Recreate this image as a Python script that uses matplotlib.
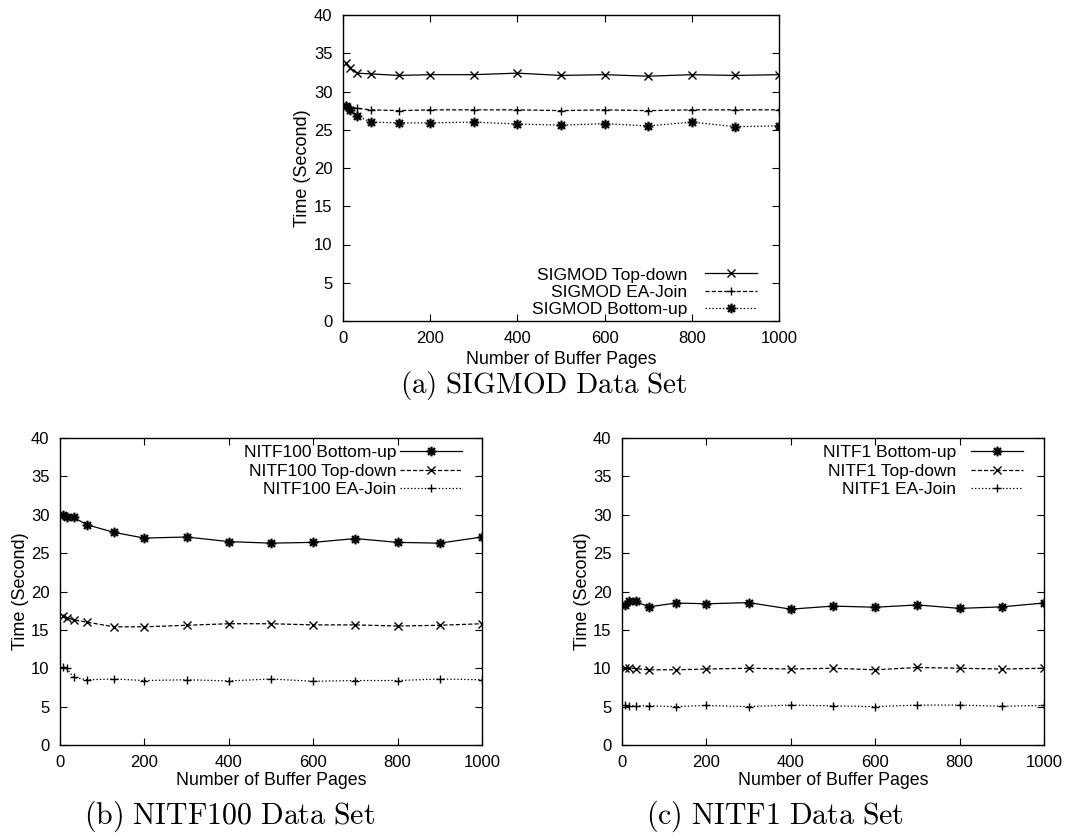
import matplotlib
matplotlib.use("Agg")
import matplotlib.pyplot as plt
from matplotlib.path import Path

plt.rcParams['font.family'] = ['Liberation Sans', 'DejaVu Sans']
plt.rcParams['mathtext.fontset'] = 'cm'
plt.rcParams['lines.scale_dashes'] = False

# ---- data ----
buffer_pages = [8, 16, 32, 64, 128, 200, 300, 400, 500, 600, 700, 800, 900, 1000]

sigmod_topdown = [33.7, 33.1, 32.4, 32.3, 32.1, 32.2, 32.2, 32.4, 32.1, 32.2, 32.0, 32.2, 32.1, 32.2]
sigmod_eajoin = [28.2, 28.0, 27.8, 27.6, 27.5, 27.6, 27.6, 27.6, 27.5, 27.6, 27.5, 27.6, 27.6, 27.6]
sigmod_bottomup = [28.1, 27.6, 26.8, 26.0, 25.9, 25.9, 26.0, 25.75, 25.6, 25.8, 25.5, 26.0, 25.4, 25.5]

nitf100_bottomup = [30.0, 29.65, 29.65, 28.7, 27.7, 26.96, 27.1, 26.5, 26.3, 26.4, 26.9, 26.4, 26.3, 27.1]
nitf100_topdown = [16.8, 16.6, 16.3, 16.0, 15.4, 15.4, 15.6, 15.8, 15.8, 15.65, 15.65, 15.5, 15.6, 15.8]
nitf100_eajoin = [10.2, 10.0, 8.8, 8.5, 8.6, 8.4, 8.5, 8.35, 8.6, 8.3, 8.4, 8.4, 8.6, 8.5]

nitf1_bottomup = [18.25, 18.8, 18.7, 18.0, 18.5, 18.4, 18.55, 17.7, 18.1, 17.95, 18.25, 17.8, 18.0, 18.5]
nitf1_topdown = [10.05, 10.05, 9.95, 9.8, 9.8, 9.9, 10.0, 9.9, 10.0, 9.8, 10.1, 10.0, 9.9, 10.0]
nitf1_eajoin = [5.15, 5.1, 5.1, 5.1, 5.0, 5.15, 5.0, 5.2, 5.1, 5.0, 5.2, 5.2, 5.05, 5.15]

x_ticks = [0, 200, 400, 600, 800, 1000]
y_ticks = [0, 5, 10, 15, 20, 25, 30, 35, 40]

SOLID = '-'
DASHED = (0, (3.0, 1.5))
DOTTED = (0, (1.0, 1.5))
STAR = Path([(-1, 0), (1, 0), (0, -1), (0, 1),
             (-0.72, -0.72), (0.72, 0.72), (-0.72, 0.72), (0.72, -0.72)],
            [Path.MOVETO, Path.LINETO] * 4)

W, H = 1084, 839
fig = plt.figure(figsize=(W / 100, H / 100), dpi=100)


def make_axes(l, r, t, b):
    return fig.add_axes([l / W, 1 - b / H, (r - l) / W, (b - t) / H])


def style(ax):
    ax.set_xlim(0, 1000)
    ax.set_ylim(0, 40)
    ax.set_xticks(x_ticks)
    ax.set_yticks(y_ticks)
    ax.tick_params(direction='in', length=5, width=0.8, top=True, right=True,
                   labelsize=12, color='black')
    ax.tick_params(axis='x', pad=7.0)
    ax.tick_params(axis='y', pad=7.5)
    for s in ax.spines.values():
        s.set_linewidth(1.0)
    ax.set_xlabel('Number of Buffer Pages', fontsize=12.8)
    ax.set_ylabel('Time (Second)', fontsize=13)


def series(ax, y, ls, marker, label, mew=1.0, ms=6):
    ax.plot(buffer_pages, y, color='black', linestyle=ls, linewidth=0.9,
            marker=marker, markersize=ms, markeredgewidth=mew, label=label)


LEG = dict(frameon=False, markerfirst=False, fontsize=12.5,
           borderpad=0.0, borderaxespad=0.0)

# (a) SIGMOD
axa = make_axes(343, 779, 15, 321)
series(axa, sigmod_topdown, SOLID, 'x', 'SIGMOD Top-down')
series(axa, sigmod_eajoin, DASHED, '+', 'SIGMOD EA-Join')
series(axa, sigmod_bottomup, DOTTED, STAR, 'SIGMOD Bottom-up', mew=1.6, ms=7)
style(axa)
axa.xaxis.set_label_coords(0.5, (321 - 350.5) / 306)
axa.yaxis.set_label_coords((311 - 343) / 436, 0.5)
axa.legend(loc='lower right', bbox_to_anchor=((757 - 343) / 436, 0.013),
           handletextpad=1.0, handlelength=3.0, labelspacing=0.12, **LEG)

# (b) NITF100
axb = make_axes(60, 482, 438, 745)
series(axb, nitf100_bottomup, SOLID, STAR, 'NITF100 Bottom-up', mew=1.6, ms=7)
series(axb, nitf100_topdown, DASHED, 'x', 'NITF100 Top-down')
series(axb, nitf100_eajoin, DOTTED, '+', 'NITF100 EA-Join')
style(axb)
axb.xaxis.set_label_coords(0.5, (745 - 772) / 307)
axb.yaxis.set_label_coords((29 - 60) / 422, 0.5)
axb.legend(loc='upper right', bbox_to_anchor=((462 - 60) / 422, (745 - 445) / 307),
           handletextpad=0.25, handlelength=3.55, labelspacing=0.2, **LEG)

# (c) NITF1
axc = make_axes(622, 1044, 438, 745)
series(axc, nitf1_bottomup, SOLID, STAR, 'NITF1 Bottom-up', mew=1.6, ms=7)
series(axc, nitf1_topdown, DASHED, 'x', 'NITF1 Top-down')
series(axc, nitf1_eajoin, DOTTED, '+', 'NITF1 EA-Join')
style(axc)
axc.xaxis.set_label_coords(0.5, (745 - 772) / 307)
axc.yaxis.set_label_coords((591 - 622) / 422, 0.5)
axc.legend(loc='upper right', bbox_to_anchor=((1023 - 622) / 422, (745 - 445) / 307),
           handletextpad=0.85, handlelength=3.0, labelspacing=0.2, **LEG)

# captions
fig.text(544 / W, 1 - 385.5 / H, r'$\mathrm{(a)\ SIGMOD\ Data\ Set}$', fontsize=21,
         ha='center', va='center')
fig.text(229 / W, 1 - 816 / H, r'$\mathrm{(b)\ NITF100\ Data\ Set}$', fontsize=21.5,
         ha='center', va='center')
fig.text(775 / W, 1 - 816 / H, r'$\mathrm{(c)\ NITF1\ Data\ Set}$', fontsize=21.5,
         ha='center', va='center')

fig.savefig('out.png', dpi=100, facecolor='white')
